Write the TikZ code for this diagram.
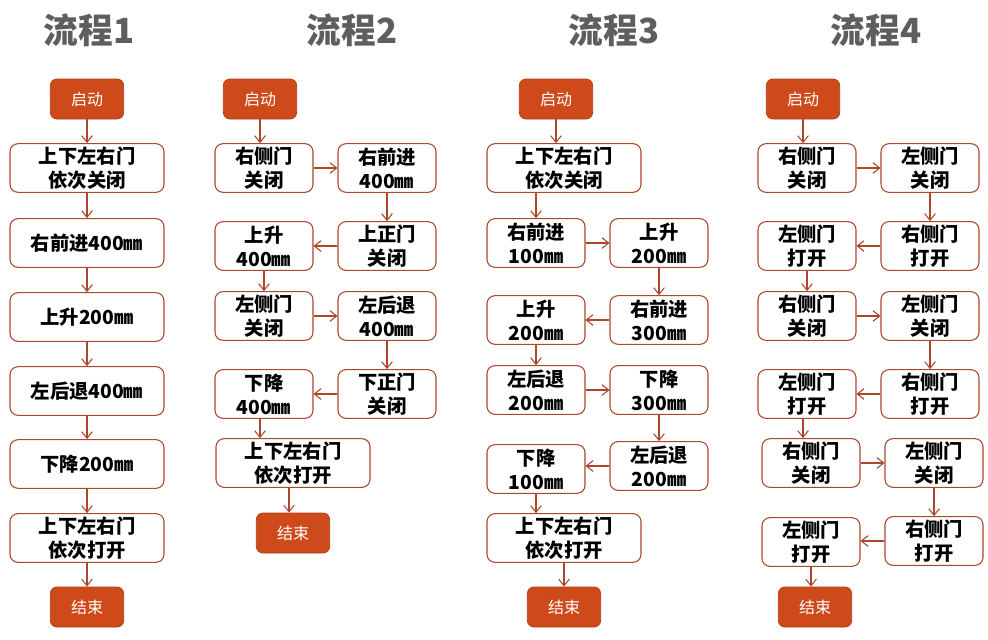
\documentclass[tikz,border=0pt]{standalone}
\usepackage{fontspec}
\usepackage{xcolor}
\definecolor{boxline}{HTML}{A9482B}
\definecolor{startfill}{HTML}{CE4A1A}
\definecolor{titlegray}{HTML}{5E5E5E}
\newfontfamily\cjk{Noto Sans CJK SC}
\usetikzlibrary{arrows.meta, positioning, calc}

\begin{document}
\begin{tikzpicture}[
  x=0.75pt, y=-0.75pt,
  stepbox/.style={
    rectangle, rounded corners=6pt, draw=boxline, line width=0.8pt,
    fill=white, minimum height=36.5pt, minimum width=73.5pt,
    align=center, inner sep=1pt, font=\cjk\bfseries\fontsize{14.5}{18}\selectfont
  },
  widebox/.style={stepbox, minimum width=115.5pt},
  startbox/.style={
    rectangle, rounded corners=5pt, draw=startfill!85!black, line width=0.6pt,
    fill=startfill, text=white, minimum width=55pt, minimum height=30pt,
    font=\cjk\fontsize{12}{14}\selectfont
  },
  title/.style={text=titlegray, font=\cjk\bfseries\fontsize{26}{30}\selectfont},
  arrow/.style={-{Straight Barb[length=5pt, width=8pt]}, draw=boxline, line width=0.8pt},
]
  \useasboundingbox (0,0) rectangle (988,639);

  % titles
  \node[title] (h1) at (89,30)  {流程1};
  \node[title] (h2) at (352,30) {流程2};
  \node[title] (h3) at (614,30) {流程3};
  \node[title] (h4) at (876,30) {流程4};

  % flow 1
  \node[startbox] (s1) at (87,99)  {启动};
  \node[widebox]  (a1) at (87,168) {上下左右门\\依次关闭};
  \node[widebox]  (b1) at (87,243) {右前进400㎜};
  \node[widebox]  (c1) at (87,317) {上升200㎜};
  \node[widebox]  (d1) at (87,391) {左后退400㎜};
  \node[widebox]  (e1) at (87,464) {下降200㎜};
  \node[widebox]  (f1) at (87,538) {上下左右门\\依次打开};
  \node[startbox] (t1) at (87,607) {结束};
  \foreach \a/\b in {s1/a1, a1/b1, b1/c1, c1/d1, d1/e1, e1/f1, f1/t1}
    \draw[arrow] (\a) -- (\b);

  % flow 2
  \node[startbox] (s2) at (260,99)  {启动};
  \node[stepbox]  (a2) at (264,168) {右侧门\\关闭};
  \node[stepbox]  (b2) at (387,168) {右前进\\400㎜};
  \node[stepbox]  (c2) at (387,246) {上正门\\关闭};
  \node[stepbox]  (d2) at (264,246) {上升\\400㎜};
  \node[stepbox]  (e2) at (264,316) {左侧门\\关闭};
  \node[stepbox]  (f2) at (387,316) {左后退\\400㎜};
  \node[stepbox]  (g2) at (387,394) {下正门\\关闭};
  \node[stepbox]  (i2) at (264,394) {下降\\400㎜};
  \node[widebox]  (j2) at (293,463) {上下左右门\\依次打开};
  \node[startbox] (t2) at (293,533) {结束};
  \draw[arrow] (s2) -- (s2 |- a2.north);
  \foreach \a/\b in {a2/b2, b2/c2, c2/d2, d2/e2, e2/f2, f2/g2, g2/i2}
    \draw[arrow] (\a) -- (\b);
  \draw[arrow] ($(i2.south)+(-4,0)$) -- ($(i2.south |- j2.north)+(-4,0)$);
  \draw[arrow] ($(j2.south)+(-4,0)$) -- ($(j2.south |- t2.north)+(-4,0)$);

  % flow 3
  \node[startbox] (s3) at (556,99)  {启动};
  \node[widebox]  (a3) at (564,168) {上下左右门\\依次关闭};
  \node[stepbox]  (b3) at (536,243) {右前进\\100㎜};
  \node[stepbox]  (c3) at (659,243) {上升\\200㎜};
  \node[stepbox]  (d3) at (659,320) {右前进\\300㎜};
  \node[stepbox]  (e3) at (536,320) {上升\\200㎜};
  \node[stepbox]  (f3) at (536,390) {左后退\\200㎜};
  \node[stepbox]  (g3) at (659,390) {下降\\300㎜};
  \node[stepbox]  (i3) at (659,466) {左后退\\200㎜};
  \node[stepbox]  (j3) at (536,469) {下降\\100㎜};
  \node[widebox]  (k3) at (564,538) {上下左右门\\依次打开};
  \node[startbox] (t3) at (564,607) {结束};
  \draw[arrow] (s3) -- (s3 |- a3.north);
  \draw[arrow] (b3 |- a3.south) -- (b3);
  \foreach \a/\b in {b3/c3, c3/d3, d3/e3, e3/f3, f3/g3, g3/i3}
    \draw[arrow] (\a) -- (\b);
  \draw[arrow] (i3.west |- i3) -- (j3.east |- i3);
  \draw[arrow] (j3) -- (j3 |- k3.north);
  \draw[arrow] (k3) -- (t3);

  % flow 4
  \node[startbox] (s4) at (803,99)  {启动};
  \node[stepbox]  (a4) at (807,168) {右侧门\\关闭};
  \node[stepbox]  (b4) at (930,168) {左侧门\\关闭};
  \node[stepbox]  (c4) at (930,246) {右侧门\\打开};
  \node[stepbox]  (d4) at (807,246) {左侧门\\打开};
  \node[stepbox]  (e4) at (807,316) {右侧门\\关闭};
  \node[stepbox]  (f4) at (930,316) {左侧门\\关闭};
  \node[stepbox]  (g4) at (930,394) {右侧门\\打开};
  \node[stepbox]  (h4b) at (807,394) {左侧门\\打开};
  \node[stepbox]  (i4) at (811,463) {右侧门\\关闭};
  \node[stepbox]  (j4) at (934,463) {左侧门\\关闭};
  \node[stepbox]  (k4) at (934,541) {右侧门\\打开};
  \node[stepbox]  (l4) at (811,542) {左侧门\\打开};
  \node[startbox] (t4) at (815,607) {结束};
  \draw[arrow] (s4) -- (s4 |- a4.north);
  \foreach \a/\b in {a4/b4, b4/c4, c4/d4, d4/e4, e4/f4, f4/g4, g4/h4b, i4/j4, j4/k4}
    \draw[arrow] (\a) -- (\b);
  \draw[arrow] ($(h4b.south)+(-4,0)$) -- ($(h4b.south |- i4.north)+(-4,0)$);
  \draw[arrow] (k4.west |- k4) -- (l4.east |- k4);
  \draw[arrow] (l4) -- (l4 |- t4.north);
\end{tikzpicture}
\end{document}
